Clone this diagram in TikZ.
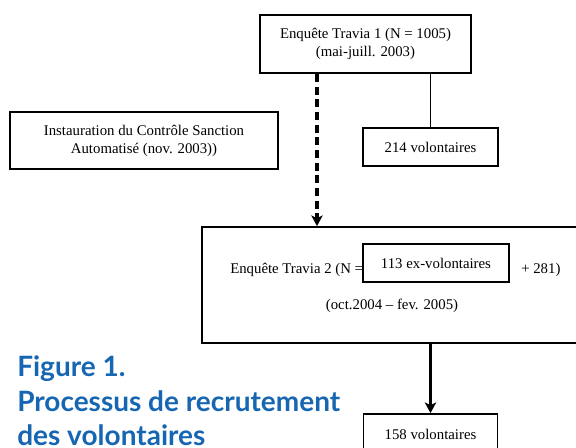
\documentclass[tikz,border=0pt]{standalone}
\usepackage{fontspec}
\setmainfont{Liberation Serif}
\newfontfamily\titlefont{Lato}
\usetikzlibrary{arrows.meta,positioning}
\definecolor{titleblue}{RGB}{22,102,178}

\begin{document}
\begin{tikzpicture}[x=0.75pt,y=-0.75pt,
    box/.style={draw, rectangle, line width=1.3pt, align=center, inner sep=0pt, font=\fontsize{11.1}{13.5}\selectfont},
    txt/.style={inner sep=0pt, font=\fontsize{11.1}{13.5}\selectfont},
    flow/.style={line width=2.3pt, -{Stealth[length=8pt,width=8.5pt,inset=2pt]}}]
          \useasboundingbox (0,0) rectangle (576,448);
          \clip (0,0) rectangle (576,448);
          \node[box, minimum width=211*0.75pt, minimum height=58*0.75pt] at (365.5,44) (enq1) {Enquête Travia 1 (N = 1005)\\(mai-juill. 2003)};
          \node[box, minimum width=268*0.75pt, minimum height=57*0.75pt] at (144,140.5) (csa) {Instauration du Contrôle Sanction\\Automatisé (nov. 2003))};
          \node[box, minimum width=135*0.75pt, minimum height=38*0.75pt] at (430.5,147) (vol1) {214 volontaires};
          \node[box, minimum width=420*0.75pt, minimum height=116*0.75pt] at (412,285) (enq2) {};
          \node[box, fill=white, minimum width=146*0.75pt, minimum height=38*0.75pt] at (436,263) (exvol) {113 ex-volontaires};
          \node[txt, anchor=base west] at (230,274) (enq2a) {Enquête Travia 2 (N =};
          \node[txt, anchor=base west] at (521,274) (enq2b) {+ 281)};
          \node[txt, anchor=base] at (392,310) (enq2c) {(oct.2004 -- fev. 2005)};
          \node[box, minimum width=134*0.75pt, minimum height=40*0.75pt] at (430.5,434) (vol2) {158 volontaires};
          % bottom line of the title sits on the lower edge
          \node[anchor=base west, align=left, inner sep=0pt, text=titleblue,
                font=\titlefont\bfseries\fontsize{21}{26}\selectfont] at (17,446) (title)
                {Figure 1.\\Processus de recrutement\\des volontaires};
          \coordinate (dash) at (317,0);
          \draw[flow, dash pattern=on 6pt off 3.5pt] (enq1.south -| dash) -- (enq2.north -| dash);
          \draw[line width=1.3pt] (enq1.south -| vol1.north) -- (vol1.north);
          \draw[flow] (enq2.south -| vol2.north) -- (vol2.north);
        \end{tikzpicture}
\end{document}
